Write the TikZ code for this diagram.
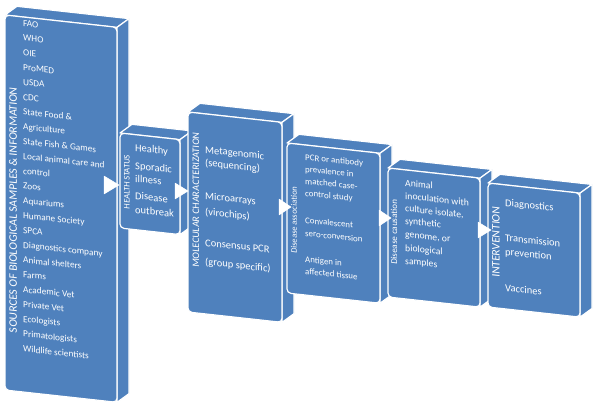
\documentclass[tikz,border=0pt]{standalone}
\usepackage{fontspec}
\setmainfont{Carlito}
\definecolor{boxblue}{HTML}{4F81BD}
\newcommand\cubebox[4]{%
  \begin{scope}[shift={(#1,#2)}, yslant=-0.11]
    \path[face] (0,0) -- (12,-10) -- ({#3+12},-10) -- (#3,0) -- cycle;
    \path[face] (#3,0) -- ({#3+12},-10) -- ({#3+12},{#4-10}) -- (#3,#4) -- cycle;
    \path[face, rounded corners=4pt] (0,0) rectangle (#3,#4);
  \end{scope}}
\begin{document}
\begin{tikzpicture}[x=1pt,y=-1pt,
  face/.style={fill=boxblue, draw=white, line width=1.2pt, line join=round},
  item/.style={anchor=base west, text=white, inner sep=0pt, yslant=-0.11},
  vlabel/.style={text=white, inner sep=0pt, yslant=-0.11, rotate=90},
  chevron/.style={fill=white, draw=white, line width=0.5pt, line join=round}]
\useasboundingbox[fill=white] (0,0) rectangle (601,412);

% boxes
\cubebox{5}{15}{112}{375}
\cubebox{120}{133}{60}{95}
\cubebox{188}{112}{94}{200}
\cubebox{287}{143}{93}{150}
\cubebox{388}{168}{92}{129}
\cubebox{488}{183}{92}{124}

% box 1
\node[vlabel, font=\fontsize{11.5}{12}\selectfont] (l1) at (13,210) {SOURCES OF BIOLOGICAL SAMPLES \& INFORMATION};
\foreach \t [count=\i from 0] in {FAO,WHO,OIE,ProMED,USDA,CDC,State Food \&,Agriculture,State Fish \& Games,Local animal care and,control,Zoos,Aquariums,Humane Society,SPCA,Diagnostics company,Animal shelters,Farms,Academic Vet,Private Vet,Ecologists,Primatologists,Wildlife scientists}
  \node[item, font=\fontsize{9.3}{10}\selectfont] (s\i) at (23,{26+14.8*\i}) {\t};

% box 2
\node[vlabel, font=\fontsize{8.5}{9}\selectfont] (l2) at (127,182) {HEALTH STATUS};
\begin{scope}[every node/.style={item, font=\fontsize{10.5}{12}\selectfont}]
\node (h1) at (135,151) {Healthy};
\node (h2) at (135,169) {Sporadic};
\node (h3) at (135,182) {illness};
\node (h4) at (135,199) {Disease};
\node (h5) at (135,213) {outbreak};
\end{scope}

% box 3
\node[vlabel, font=\fontsize{10}{11}\selectfont] (l3) at (196,200) {MOLECULAR CHARACTERIZATION};
\begin{scope}[every node/.style={item, font=\fontsize{10.5}{12}\selectfont}]
\node (m1) at (205,153) {Metagenomic};
\node (m2) at (205,166) {(sequencing)};
\node (m3) at (205,199) {Microarrays};
\node (m4) at (205,215) {(virochips)};
\node (m5) at (205,246) {Consensus PCR};
\node (m6) at (205,265) {(group specific)};
\end{scope}

% box 4
\node[vlabel, font=\fontsize{8.5}{9}\selectfont] (l4) at (294,220) {Disease association};
\begin{scope}[every node/.style={item, font=\fontsize{8.9}{10}\selectfont}]
\node (a1) at (305,160) {PCR or antibody};
\node (a2) at (305,172) {prevalence in};
\node (a3) at (305,184) {matched case-};
\node (a4) at (305,196) {control study};
\node (a5) at (305,223) {Convalescent};
\node (a6) at (305,236) {sero-conversion};
\node (a7) at (305,262) {Antigen in};
\node (a8) at (305,274) {affected tissue};
\end{scope}

% box 5
\node[vlabel, font=\fontsize{9}{10}\selectfont] (l5) at (394,232) {Disease causation};
\begin{scope}[every node/.style={item, font=\fontsize{9.7}{11}\selectfont}]
\node (c1) at (405,186) {Animal};
\node (c2) at (405,199) {inoculation with};
\node (c3) at (405,211.5) {culture isolate,};
\node (c4) at (405,224) {synthetic};
\node (c5) at (405,237) {genome, or};
\node (c6) at (405,251) {biological};
\node (c7) at (405,264) {samples};
\end{scope}

% box 6
\node[vlabel, font=\fontsize{11.5}{12}\selectfont] (l6) at (496,242) {INTERVENTION};
\begin{scope}[every node/.style={item, font=\fontsize{10.5}{12}\selectfont}]
\node (i1) at (505,206) {Diagnostics};
\node (i2) at (505,241) {Transmission};
\node (i3) at (505,255) {prevention};
\node (i4) at (505,291) {Vaccines};
\end{scope}

% arrows
\path[chevron] (104,176) -- (119,185) -- (104,194) -- cycle;
\path[chevron] (175,183) -- (188,191) -- (175,199) -- cycle;
\path[chevron] (279,199) -- (291,207) -- (279,215) -- cycle;
\path[chevron] (379,210) -- (391,218) -- (379,226) -- cycle;
\path[chevron] (478,222) -- (491,230) -- (478,238) -- cycle;
\end{tikzpicture}
\end{document}
